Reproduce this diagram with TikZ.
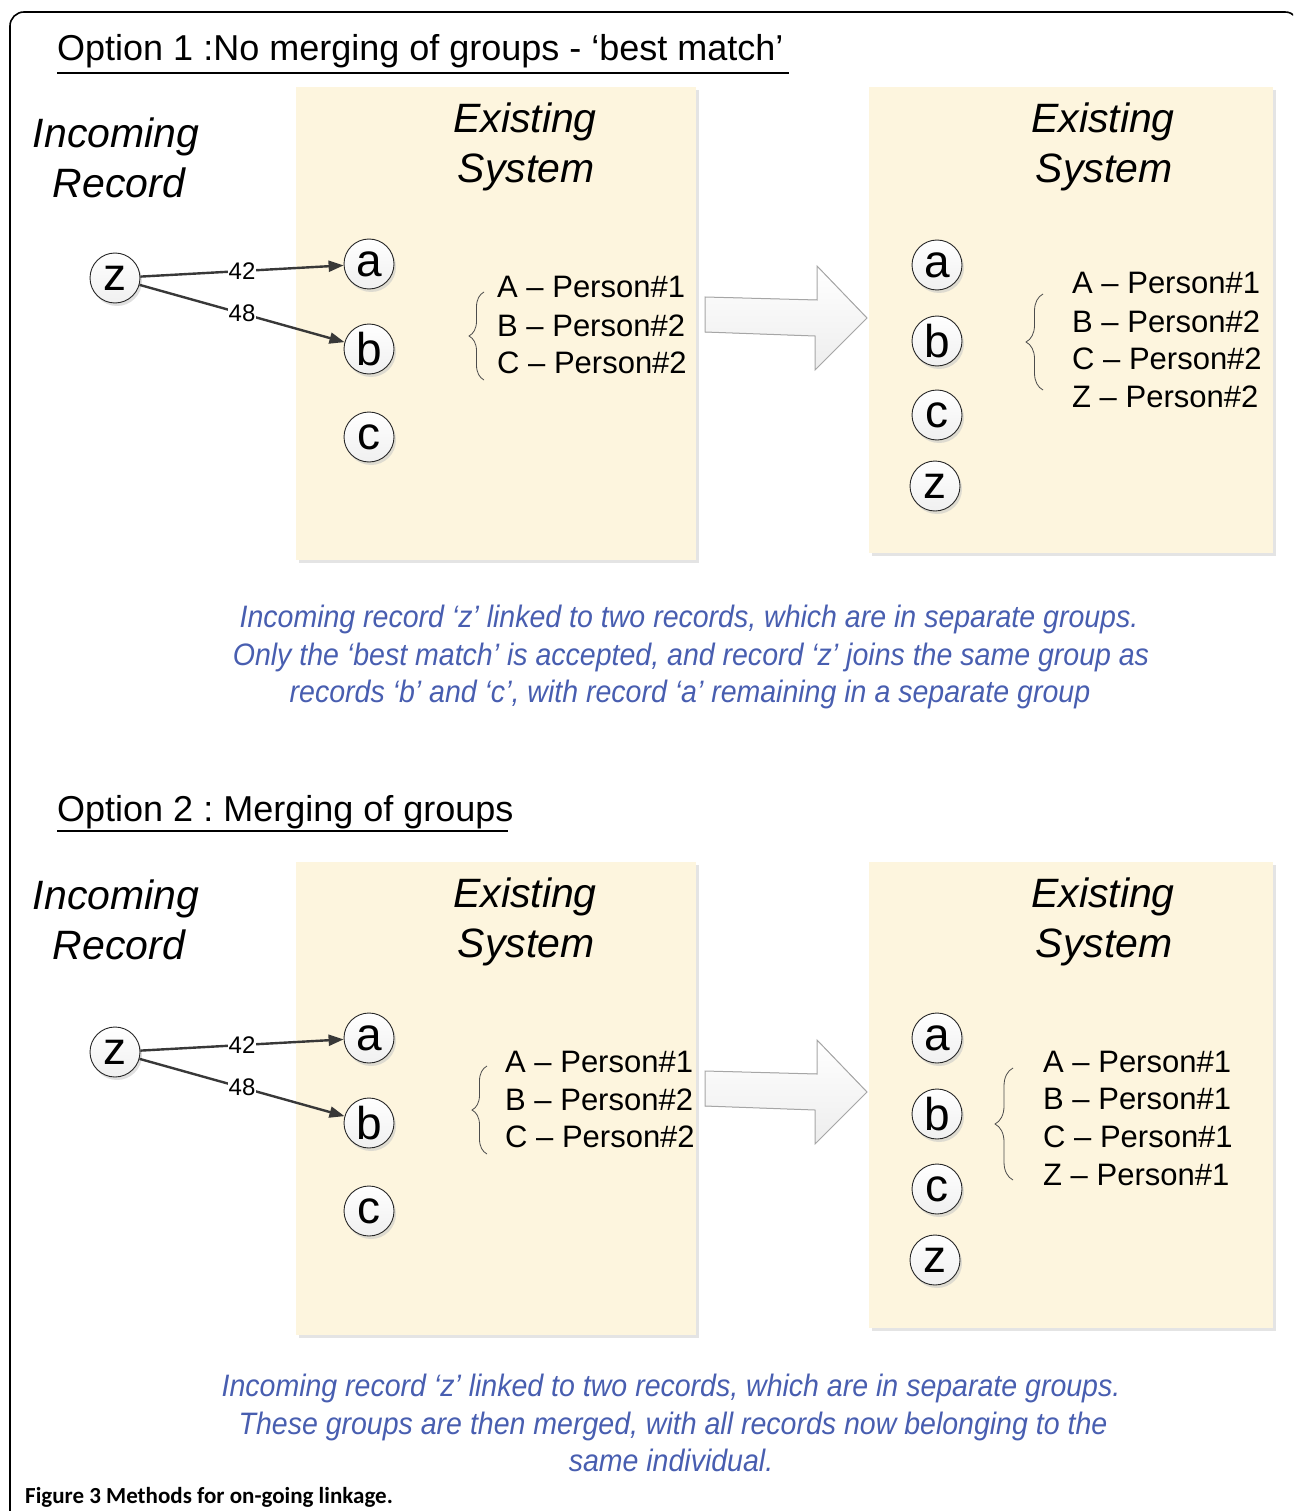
\documentclass[tikz,border=0pt]{standalone}
\usepackage{fontspec}
\setmainfont{Liberation Sans}
\newfontfamily\capfont[FakeStretch=0.92]{Liberation Sans Italic}
\newfontfamily\figfont{Carlito}
\usetikzlibrary{arrows.meta,shadows,decorations.pathreplacing}
\definecolor{boxfill}{RGB}{253,245,222}
\definecolor{boxshadow}{RGB}{228,228,228}
\definecolor{capblue}{RGB}{72,94,176}
\newcommand\fsz[1]{\fontsize{#1}{#1}\selectfont}
\frenchspacing
\begin{document}
\begin{tikzpicture}[x=1pt,y=-1pt,
  rec/.style={circle, draw=black!85, line width=0.9pt, minimum size=50pt, inner sep=0pt,
    font=\fsz{46}, top color=white, bottom color=gray!12,
    drop shadow={shadow xshift=2pt, shadow yshift=-3pt, fill=gray!45, opacity=0.55}},
  edge/.style={draw=black!78, line width=2.4pt, -{Triangle[length=15pt,width=11pt]}},
  elab/.style={fill=white, inner sep=0.5pt, font=\fsz{24}},
  ttl/.style={anchor=base west, inner sep=0pt, font=\fsz{36}},
  big/.style={anchor=base, font=\itshape\fsz{41}},
  plist/.style={anchor=base west, inner sep=0pt, font=\fsz{31}},
  captext/.style={anchor=base, font=\capfont\fsz{31}, text=capblue},
  brc/.style={draw=black!70, line width=0.8pt, decorate, decoration={brace, amplitude=#1}},
  bigarrow/.style={draw=gray!70, line width=1pt, top color=white, bottom color=gray!14, line join=miter}
]
\useasboundingbox (0,0) rectangle (1293,1511);
\begin{scope}
\clip (0,0) rectangle (1293,1511);
\draw[line width=1.6pt, rounded corners=14pt] (10,1540) -- (10,12) -- (1299,12) -- (1299,1540);
\end{scope}

% ---------------- Option 1 ----------------
\node[ttl] (t1) at (57,61) {Option 1 :No merging of groups - ‘best match’};
\draw[line width=2pt] (57,73.5) -- (789,73.5);

\fill[boxshadow] (299,90) rectangle (699,563);
\fill[boxfill] (296,87) rectangle (696,560);
\fill[boxshadow] (872,90) rectangle (1276,556);
\fill[boxfill] (869,87) rectangle (1273,553);

\node[big] (in1a) at (116,148) {Incoming};
\node[big] (in1b) at (119,198) {Record};
\node[big] (ex1a) at (525,133) {Existing};
\node[big] (ex1b) at (526,183) {System};
\node[big] (ey1a) at (1103,133) {Existing};
\node[big] (ey1b) at (1104,183) {System};

\node[rec] (z1) at (115,278) {z};
\node[rec] (a1) at (369,264) {a};
\node[rec] (b1) at (369,349) {b};
\node[rec] (c1) at (369,437) {c};
\draw[edge] (z1) -- node[elab] {42} (a1);
\draw[edge] (z1) -- node[elab] {48} (b1);

\draw[brc=15pt] (484,380) -- (484,292);
\node[plist] (p1a) at (497,298) {A – Person\#1};
\node[plist] (p1b) at (497,336) {B – Person\#2};
\node[plist] (p1c) at (497,373) {C – Person\#2};

\filldraw[bigarrow] (705,297) -- (817,300) -- (817,266) -- (867,318) -- (815,370) -- (815,336) -- (705,332) -- cycle;

\node[rec] (a1r) at (937,265) {a};
\node[rec] (b1r) at (937,341) {b};
\node[rec] (c1r) at (937,415) {c};
\node[rec] (z1r) at (935,486) {z};

\draw[brc=17pt] (1043,390) -- (1043,294);
\node[plist] (q1a) at (1072,294) {A – Person\#1};
\node[plist] (q1b) at (1072,332) {B – Person\#2};
\node[plist] (q1c) at (1072,369) {C – Person\#2};
\node[plist] (q1d) at (1072,407) {Z – Person\#2};

\node[captext] (c1l1) at (689,627) {Incoming record ‘z’ linked to two records, which are in separate groups.};
\node[captext] (c1l2) at (691,665) {Only the ‘best match’ is accepted, and record ‘z’ joins the same group as};
\node[captext] (c1l3) at (690,702) {records ‘b’ and ‘c’, with record ‘a’ remaining in a separate group};

% ---------------- Option 2 ----------------
\node[ttl] (t2) at (57,821) {Option 2 : Merging of groups};
\draw[line width=2pt] (57,830.5) -- (508,830.5);

\fill[boxshadow] (299,865) rectangle (699,1338);
\fill[boxfill] (296,862) rectangle (696,1335);
\fill[boxshadow] (872,865) rectangle (1276,1331);
\fill[boxfill] (869,862) rectangle (1273,1328);

\node[big] (in2a) at (116,909) {Incoming};
\node[big] (in2b) at (119,959) {Record};
\node[big] (ex2a) at (525,907) {Existing};
\node[big] (ex2b) at (526,957) {System};
\node[big] (ey2a) at (1103,907) {Existing};
\node[big] (ey2b) at (1104,957) {System};

\node[rec] (z2) at (115,1052) {z};
\node[rec] (a2) at (369,1038) {a};
\node[rec] (b2) at (369,1123) {b};
\node[rec] (c2) at (369,1211) {c};
\draw[edge] (z2) -- node[elab] {42} (a2);
\draw[edge] (z2) -- node[elab] {48} (b2);

\draw[brc=15pt] (487,1154) -- (487,1066);
\node[plist] (p2a) at (505,1072) {A – Person\#1};
\node[plist] (p2b) at (505,1110) {B – Person\#2};
\node[plist] (p2c) at (505,1147) {C – Person\#2};

\filldraw[bigarrow] (705,1071) -- (817,1074) -- (817,1040) -- (867,1092) -- (815,1144) -- (815,1110) -- (705,1106) -- cycle;

\node[rec] (a2r) at (937,1038) {a};
\node[rec] (b2r) at (937,1114) {b};
\node[rec] (c2r) at (937,1189) {c};
\node[rec] (z2r) at (935,1260) {z};

\draw[brc=18pt] (1013,1180) -- (1013,1068);
\node[plist] (q2a) at (1043,1072) {A – Person\#1};
\node[plist] (q2b) at (1043,1109) {B – Person\#1};
\node[plist] (q2c) at (1043,1147) {C – Person\#1};
\node[plist] (q2d) at (1043,1185) {Z – Person\#1};

\node[captext] (c2l1) at (671,1396) {Incoming record ‘z’ linked to two records, which are in separate groups.};
\node[captext] (c2l2) at (673,1434) {These groups are then merged, with all records now belonging to the};
\node[captext] (c2l3) at (671,1471) {same individual.};

\node[anchor=base west, inner sep=0pt, font=\figfont\bfseries\fsz{23}] (fig) at (25,1503) {Figure 3 Methods for on-going linkage.};
\end{tikzpicture}
\end{document}
